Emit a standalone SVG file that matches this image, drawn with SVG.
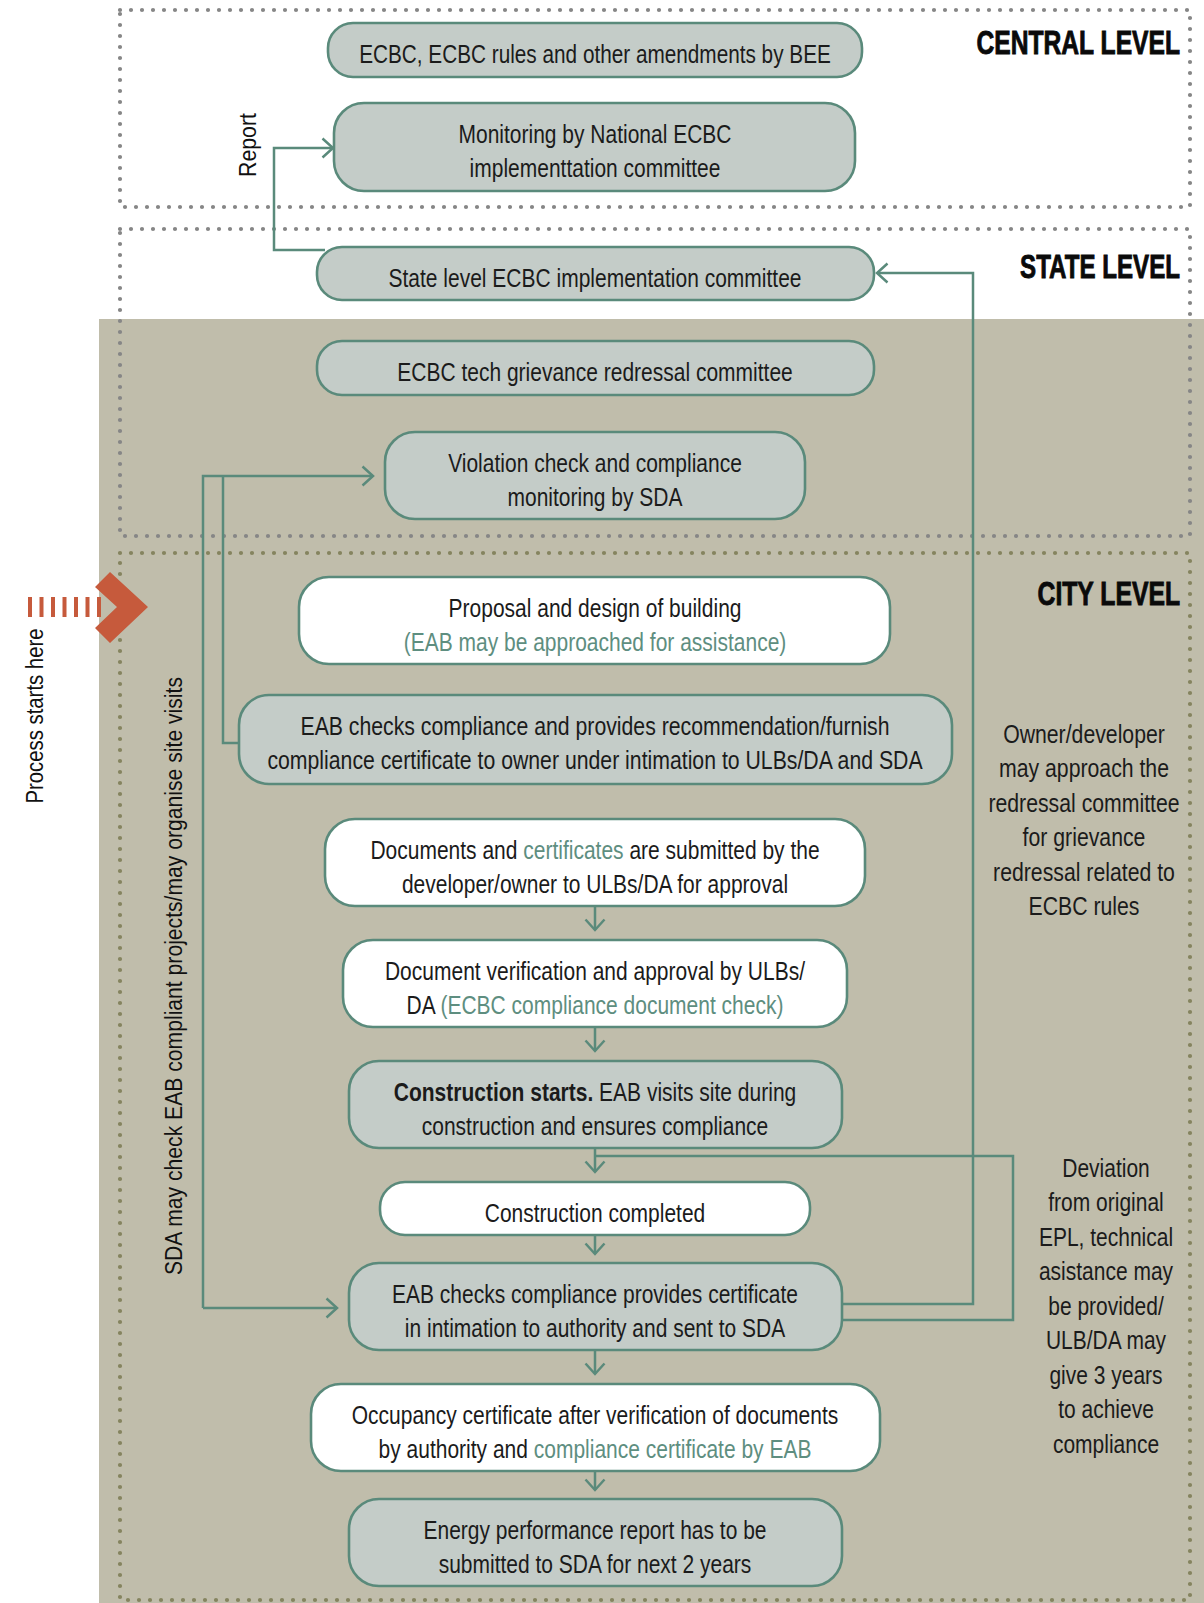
<svg xmlns="http://www.w3.org/2000/svg" width="1204" height="1603" viewBox="0 0 1204 1603">
<defs>
<style>
.bg{fill:#ffffff}
.beige{fill:#c0bdab}
.dotg{fill:none;stroke:#868686;stroke-width:4.2;stroke-linecap:round;stroke-dasharray:0 11}
.doto{fill:none;stroke:#85845f;stroke-width:4.2;stroke-linecap:round;stroke-dasharray:0 11}
.ng{fill:#c4ccc8;stroke:#5a8a7b;stroke-width:2.6}
.nw{fill:#ffffff;stroke:#5a8a7b;stroke-width:2.6}
.c{fill:none;stroke:#5a8a7b;stroke-width:2.5}
.t{font-family:"Liberation Sans",Arial,sans-serif;font-size:25px;fill:#1b1b1b}
.g{fill:#5e8e80}
.b{font-weight:bold}
.lv{font-family:"Liberation Sans",Arial,sans-serif;font-size:34px;font-weight:bold;fill:#0a0a0a;stroke:#0a0a0a;stroke-width:0.9}
.r{font-family:"Liberation Sans",Arial,sans-serif;font-size:23px;fill:#111111}
</style>
<marker id="ah" viewBox="0 0 14 22" refX="12" refY="11" markerWidth="14" markerHeight="22" markerUnits="userSpaceOnUse" orient="auto">
<path d="M1.5,1.5 L12,11 L1.5,20.5" fill="none" stroke="#5a8a7b" stroke-width="2.5"/>
</marker>
</defs>
<rect class="bg" x="0" y="0" width="1204" height="1603"/>
<rect class="beige" x="99" y="319" width="1105" height="1284"/>

<g id="levels">
<rect class="dotg" x="120" y="10" width="1070" height="197"/>
<rect class="dotg" x="120" y="229" width="1070" height="307"/>
<rect class="doto" x="120" y="553" width="1070" height="1047"/>
<text class="lv" transform="translate(1180,54) scale(0.725,1)" text-anchor="end">CENTRAL LEVEL</text>
<text class="lv" transform="translate(1180,278) scale(0.71,1)" text-anchor="end">STATE LEVEL</text>
<text class="lv" transform="translate(1180,605) scale(0.728,1)" text-anchor="end">CITY LEVEL</text>
</g>

<g id="start">
<line x1="28" y1="607" x2="101" y2="607" stroke="#c65a3c" stroke-width="20" stroke-dasharray="4 7.5"/>
<polygon points="95,587 110,572 148,607 110,643 95,628 117,607" fill="#c65a3c"/>
<text class="r" x="43" y="716" text-anchor="middle" transform="rotate(-90 43 716)" textLength="175" lengthAdjust="spacingAndGlyphs">Process starts here</text>
</g>

<g id="connectors">
<path class="c" d="M325,250 H274 V148 H333" marker-end="url(#ah)"/>
<path class="c" d="M842,1304 H973 V273 H877" marker-end="url(#ah)"/>
<path class="c" d="M842,1320 H1013 V1156 H595"/>
<path class="c" d="M203,1308 V476 H373" marker-end="url(#ah)"/>
<path class="c" d="M203,1308 H337" marker-end="url(#ah)"/>
<path class="c" d="M242,743 H223 V476"/>
<path class="c" d="M595,906 V930" marker-end="url(#ah)"/>
<path class="c" d="M595,1027 V1051" marker-end="url(#ah)"/>
<path class="c" d="M595,1148 V1172" marker-end="url(#ah)"/>
<path class="c" d="M595,1235 V1254" marker-end="url(#ah)"/>
<path class="c" d="M595,1350 V1374" marker-end="url(#ah)"/>
<path class="c" d="M595,1471 V1490" marker-end="url(#ah)"/>
<text class="r" x="256" y="145" text-anchor="middle" transform="rotate(-90 256 145)" textLength="64" lengthAdjust="spacingAndGlyphs">Report</text>
<text class="r" x="182" y="976" text-anchor="middle" transform="rotate(-90 182 976)" textLength="598" lengthAdjust="spacingAndGlyphs">SDA may check EAB compliant projects/may organise site visits</text>
</g>

<g id="n1">
<rect class="ng" x="328" y="23" width="534" height="54" rx="25"/>
<text class="t" transform="translate(595,63) scale(0.83,1)" text-anchor="middle">ECBC, ECBC rules and other amendments by BEE</text>
</g>
<g id="n2">
<rect class="ng" x="334" y="103" width="521" height="88" rx="30"/>
<text class="t" transform="translate(595,0) scale(0.84,1)" text-anchor="middle"><tspan x="0" y="143">Monitoring by National ECBC</tspan><tspan x="0" y="177">implementtation committee</tspan></text>
</g>
<g id="n3">
<rect class="ng" x="317" y="247" width="557" height="53" rx="25"/>
<text class="t" transform="translate(595,287) scale(0.84,1)" text-anchor="middle">State level ECBC implementation committee</text>
</g>
<g id="n4">
<rect class="ng" x="317" y="341" width="557" height="54" rx="25"/>
<text class="t" transform="translate(595,381) scale(0.84,1)" text-anchor="middle">ECBC tech grievance redressal committee</text>
</g>
<g id="n5">
<rect class="ng" x="385" y="432" width="420" height="87" rx="30"/>
<text class="t" transform="translate(595,0) scale(0.84,1)" text-anchor="middle"><tspan x="0" y="472">Violation check and compliance</tspan><tspan x="0" y="506">monitoring by SDA</tspan></text>
</g>
<g id="n6">
<rect class="nw" x="299" y="577" width="591" height="87" rx="30"/>
<text class="t" transform="translate(595,0) scale(0.84,1)" text-anchor="middle"><tspan x="0" y="617">Proposal and design of building</tspan><tspan x="0" y="651" class="g">(EAB may be approached for assistance)</tspan></text>
</g>
<g id="n7">
<rect class="ng" x="239" y="695" width="713" height="89" rx="30"/>
<text class="t" transform="translate(595,0) scale(0.85,1)" text-anchor="middle"><tspan x="0" y="735">EAB checks compliance and provides recommendation/furnish</tspan><tspan x="0" y="769">compliance certificate to owner under intimation to ULBs/DA and SDA</tspan></text>
</g>
<g id="n8">
<rect class="nw" x="325" y="819" width="540" height="87" rx="30"/>
<text class="t" transform="translate(595,0) scale(0.84,1)" text-anchor="middle"><tspan x="0" y="859">Documents and <tspan class="g">certificates</tspan> are submitted by the</tspan><tspan x="0" y="893">developer/owner to ULBs/DA for approval</tspan></text>
</g>
<g id="n9">
<rect class="nw" x="343" y="940" width="504" height="87" rx="30"/>
<text class="t" transform="translate(595,0) scale(0.84,1)" text-anchor="middle"><tspan x="0" y="980">Document verification and approval by ULBs/</tspan><tspan x="0" y="1014">DA <tspan class="g">(ECBC compliance document check)</tspan></tspan></text>
</g>
<g id="n10">
<rect class="ng" x="349" y="1061" width="493" height="87" rx="30"/>
<text class="t" transform="translate(595,0) scale(0.84,1)" text-anchor="middle"><tspan x="0" y="1101"><tspan class="b">Construction starts.</tspan> EAB visits site during</tspan><tspan x="0" y="1135">construction and ensures compliance</tspan></text>
</g>
<g id="n11">
<rect class="nw" x="380" y="1182" width="430" height="53" rx="25"/>
<text class="t" transform="translate(595,1222) scale(0.84,1)" text-anchor="middle">Construction completed</text>
</g>
<g id="n12">
<rect class="ng" x="349" y="1263" width="493" height="87" rx="30"/>
<text class="t" transform="translate(595,0) scale(0.84,1)" text-anchor="middle"><tspan x="0" y="1303">EAB checks compliance provides certificate</tspan><tspan x="0" y="1337">in intimation to authority and sent to SDA</tspan></text>
</g>
<g id="n13">
<rect class="nw" x="311" y="1384" width="569" height="87" rx="30"/>
<text class="t" transform="translate(595,0) scale(0.84,1)" text-anchor="middle"><tspan x="0" y="1424">Occupancy certificate after verification of documents</tspan><tspan x="0" y="1458">by authority and <tspan class="g">compliance certificate by EAB</tspan></tspan></text>
</g>
<g id="n14">
<rect class="ng" x="349" y="1499" width="493" height="87" rx="30"/>
<text class="t" transform="translate(595,0) scale(0.84,1)" text-anchor="middle"><tspan x="0" y="1539">Energy performance report has to be</tspan><tspan x="0" y="1573">submitted to SDA for next 2 years</tspan></text>
</g>

<g id="note-owner">
<text class="t" transform="translate(1084,0) scale(0.85,1)" text-anchor="middle"><tspan x="0" y="743">Owner/developer</tspan><tspan x="0" y="777.5">may approach the</tspan><tspan x="0" y="812">redressal committee</tspan><tspan x="0" y="846.5">for grievance</tspan><tspan x="0" y="881">redressal related to</tspan><tspan x="0" y="915.5">ECBC rules</tspan></text>
</g>
<g id="note-deviation">
<text class="t" transform="translate(1106,0) scale(0.84,1)" text-anchor="middle"><tspan x="0" y="1177">Deviation</tspan><tspan x="0" y="1211.5">from original</tspan><tspan x="0" y="1246">EPL, technical</tspan><tspan x="0" y="1280.5">asistance may</tspan><tspan x="0" y="1315">be provided/</tspan><tspan x="0" y="1349.5">ULB/DA may</tspan><tspan x="0" y="1384">give 3 years</tspan><tspan x="0" y="1418.5">to achieve</tspan><tspan x="0" y="1453">compliance</tspan></text>
</g>
</svg>
